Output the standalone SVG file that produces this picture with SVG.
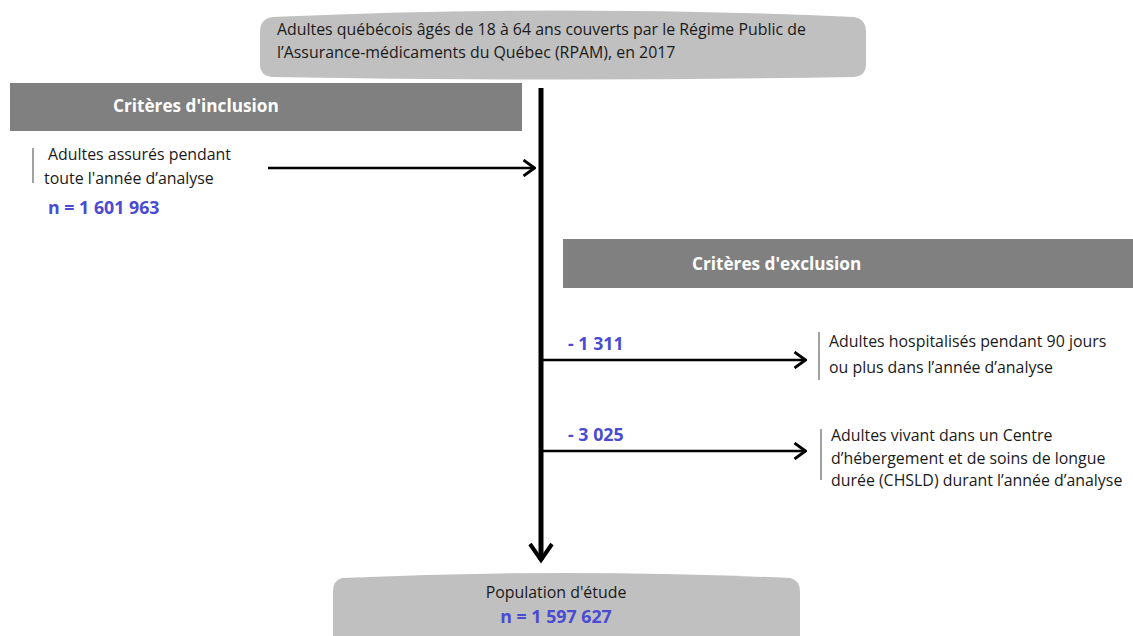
<svg xmlns="http://www.w3.org/2000/svg" width="1133" height="636" viewBox="0 0 1133 636">
<style>
.t{font-family:"Open Sans","Liberation Sans",sans-serif;font-size:15.9px;fill:#1a1a1a}
.h{font-family:"Open Sans","Liberation Sans",sans-serif;font-size:17.2px;font-weight:bold;fill:#ffffff}
.n{font-family:"Open Sans","Liberation Sans",sans-serif;font-size:17.8px;font-weight:bold;fill:#4a4ad2}
.bar{fill:#808080}
.oval{fill:#c0c0c0}
.ln{stroke:#000;fill:none}
.sep{stroke:#444;stroke-width:1}
</style>
<defs>
<marker id="chev" viewBox="0 0 14 18" refX="13" refY="9" markerWidth="14" markerHeight="18" markerUnits="userSpaceOnUse" orient="auto">
<path d="M1.5,1 L12.5,9 L1.5,17" fill="none" stroke="#000" stroke-width="2.8"/>
</marker>
</defs>
<rect width="1133" height="636" fill="#fff"/>
<g id="top">
<path class="oval" d="M272,17 Q562,4 854,17 Q866,19 866,32 L866,64 Q866,76 854,77 Q562,82 272,77 Q260,76 260,64 L260,32 Q260,19 272,17 Z"/>
<text class="t" x="277" y="35">Adultes québécois âgés de 18 à 64 ans couverts par le Régime Public de</text>
<text class="t" x="277" y="58">l’Assurance-médicaments du Québec (RPAM), en 2017</text>
</g>
<g id="inclusion-header">
<rect class="bar" x="10" y="83" width="512" height="48"/>
<text class="h" x="113" y="112">Critères d'inclusion</text>
</g>
<g id="inclusion">
<line class="sep" x1="33" y1="148" x2="33" y2="183"/>
<text class="t" x="48" y="160">Adultes assurés pendant</text>
<text class="t" x="44" y="184">toute l'année d’analyse</text>
<text class="n" x="48" y="214">n = 1 601 963</text>
</g>
<g id="exclusion-header">
<rect class="bar" x="563" y="239" width="570" height="49"/>
<text class="h" x="692" y="270">Critères d'exclusion</text>
</g>
<g id="exclusion1">
<line class="sep" x1="819" y1="332" x2="819" y2="380"/>
<text class="t" x="829" y="347">Adultes hospitalisés pendant 90 jours</text>
<text class="t" x="829" y="373">ou plus dans l’année d’analyse</text>
</g>
<g id="exclusion2">
<line class="sep" x1="821" y1="429" x2="821" y2="480"/>
<text class="t" x="831" y="441">Adultes vivant dans un Centre</text>
<text class="t" x="831" y="464">d’hébergement et de soins de longue</text>
<text class="t" x="831" y="486">durée (CHSLD) durant l’année d’analyse</text>
</g>
<g id="bottom">
<path class="oval" d="M342,578 Q566,568 790,578 Q800,580 800,592 L800,636 L333,636 L333,592 Q333,580 342,578 Z"/>
<text class="t" x="556" y="598" text-anchor="middle">Population d'étude</text>
<text class="n" x="556" y="623" text-anchor="middle">n = 1 597 627</text>
</g>
<g id="connectors">
<line class="ln" x1="541" y1="88" x2="541" y2="560" stroke-width="5"/>
<path d="M530,544 L541,560 L552,544" fill="none" stroke="#000" stroke-width="4"/>
<line class="ln" x1="268" y1="168" x2="535" y2="168" stroke-width="2.5" marker-end="url(#chev)"/>
<line class="ln" x1="541" y1="360" x2="806" y2="360" stroke-width="2.5" marker-end="url(#chev)"/>
<line class="ln" x1="541" y1="451" x2="806" y2="451" stroke-width="2.5" marker-end="url(#chev)"/>
<text class="n" x="568" y="350">- 1 311</text>
<text class="n" x="568" y="441">- 3 025</text>
</g>
</svg>
